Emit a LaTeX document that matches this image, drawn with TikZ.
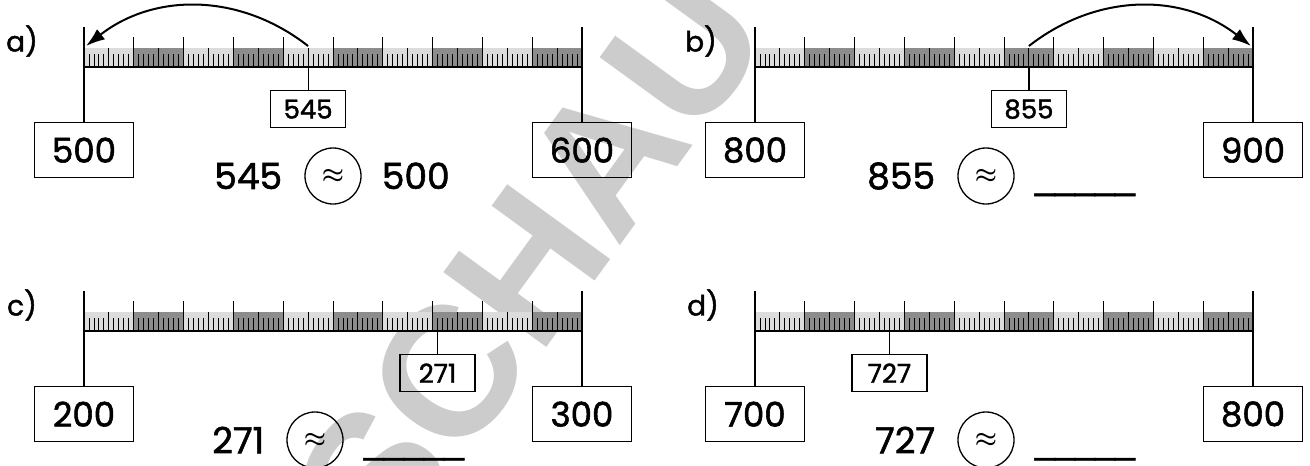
\documentclass[tikz,border=0pt]{standalone}
\usepackage{fontspec}
\setmainfont{Poppins}[FakeBold=1.6]
\newfontfamily\wmfont{Liberation Sans}
\newfontfamily\linefont{Liberation Sans}[FakeBold=1.5]
\usetikzlibrary{arrows.meta,positioning}
\tikzset{>={Latex[length=19pt,width=13pt]}}
\definecolor{bandlight}{RGB}{220,220,220}
\definecolor{banddark}{RGB}{140,140,140}
\definecolor{wmgray}{RGB}{204,204,204}

\tikzset{
  endbox/.style={draw,line width=1.3pt,minimum width=99pt,minimum height=55pt,
    inner sep=0pt,font=\fontsize{34}{34}\selectfont},
  valbox/.style={draw,line width=1.3pt,minimum width=75pt,minimum height=37pt,
    inner sep=0pt,font=\fontsize{26}{26}\selectfont},
  eqtext/.style={inner sep=0pt,font=\fontsize{36}{36}\selectfont},
  apxcircle/.style={draw,circle,line width=1.3pt,minimum size=56pt,inner sep=0pt,
    font=\boldmath\fontsize{28}{28}\selectfont},
  plabel/.style={inner sep=0pt,font=\fontsize{28}{28}\selectfont},
  jump/.style={->,line width=2pt},
}

\begin{document}
\begin{tikzpicture}[x=1pt,y=-1pt]

  \useasboundingbox (0,0) rectangle (1310,466);

  % watermark
  \begin{scope}
    \clip (0,0) rectangle (1310,466);
    \node[font=\wmfont\bfseries\fontsize{185}{185}\selectfont,text=wmgray,rotate=54]
      (wm) at (530,262) {SCHAU};
  \end{scope}

  \def\u{4.98} % one step on the ruler
  \def\gap{{\linefont\_\_\_\_\_}}

  % panel / ruler start / baseline / low / high / mark / circle / label x / answer
  \foreach \pn/\xo/\yo/\lo/\hi/\val/\cx/\lx/\ans in {
      a/84/67/500/600/45/333/22/500,
      b/755/67/800/900/55/986/701/\gap,
      c/84/331/200/300/71/315/22/\gap,
      d/755/331/700/800/27/986/703/\gap}{

    % band
    \foreach \s in {0,...,9}{
      \ifodd\s \def\bc{banddark}\else \def\bc{bandlight}\fi
      \fill[\bc] (\xo+\s*10*\u,\yo-19) rectangle ++(10*\u,19);
    }

    % ticks
    \foreach \i in {1,...,99}{
      \pgfmathsetmacro\th{mod(\i,10)==0 ? 30 : (mod(\i,5)==0 ? 19 : 13)}
      \draw[line width=0.9pt] (\xo+\i*\u,\yo) -- ++(0,-\th);
    }
    \draw[line width=2.5pt] (\xo,\yo) -- (\xo+100*\u,\yo);
    \draw[line width=2pt] (\xo,\yo-40) -- (\xo,\yo);
    \draw[line width=2pt] (\xo+100*\u,\yo-40) -- (\xo+100*\u,\yo);

    \coordinate (l\pn) at (\xo,\yo);
    \coordinate (r\pn) at (\xo+100*\u,\yo);
    \coordinate (m\pn) at (\xo+\val*\u,\yo);
    \coordinate (t\pn) at (\xo+\val*\u,\yo-21);

    % boxes
    \pgfmathtruncatemacro\mark{\lo+\val}
    \node[endbox,anchor=north] (lo\pn) at (\xo,\yo+55) {\lo};
    \node[endbox,anchor=north] (hi\pn) at (\xo+100*\u,\yo+55) {\hi};
    \node[valbox,anchor=north] (mk\pn) at (\xo+\val*\u,\yo+23) {\mark};
    \draw[line width=1.2pt] (l\pn) -- (lo\pn);
    \draw[line width=1.2pt] (r\pn) -- (hi\pn);
    \draw[line width=1.2pt] (m\pn) -- (mk\pn);

    % rounding
    \node[apxcircle] (ap\pn) at (\cx,\yo+109) {$\approx$};
    \node[eqtext,left=22pt of ap\pn] (nu\pn) {\mark};
    \node[eqtext,anchor=base west,xshift=20pt] (an\pn) at (ap\pn.east |- nu\pn.base) {\ans};

    \node[plabel] (lb\pn) at (\lx,\yo-26) {\pn)};
  }

  % arrows
  \coordinate (ea) at (86,46);
  \coordinate (eb) at (1251,46);
  \draw[jump] (ta) to[bend right=38] (ea);
  \draw[jump] (tb) to[bend left=38] (eb);

\end{tikzpicture}
\end{document}
